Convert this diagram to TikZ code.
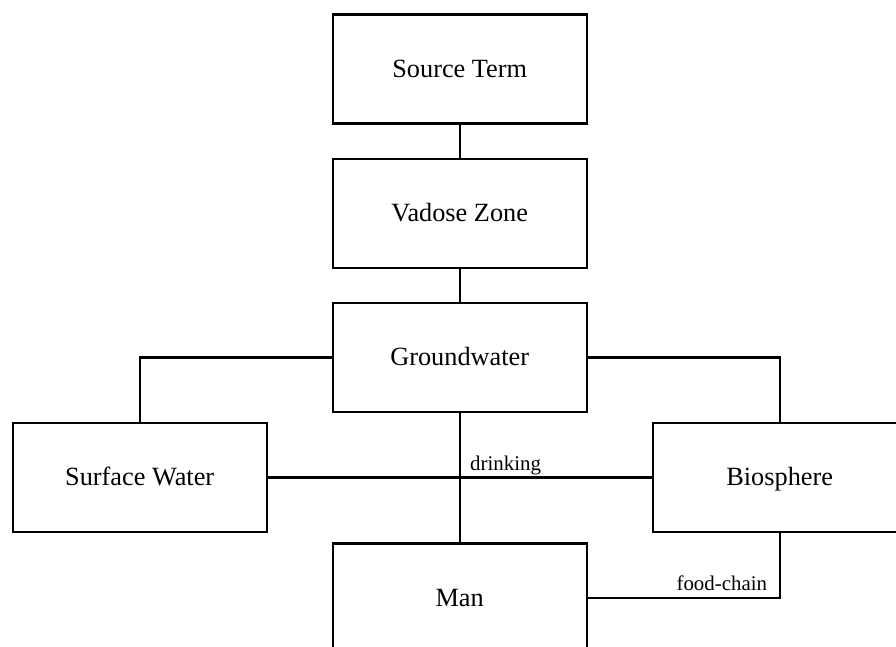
\documentclass[tikz,border=0pt]{standalone}
\usepackage{fontspec}
\setmainfont{Liberation Serif}
\begin{document}
\begin{tikzpicture}[x=1pt,y=-1pt,
  compartment/.style={draw, line width=2.2pt, rectangle, inner sep=0pt,
    minimum width=254pt, minimum height=109pt,
    text height=17.4pt, text depth=1.4pt,
    font=\fontsize{26.3}{30}\selectfont},
  link/.style={draw, line width=2.2pt},
  pathlabel/.style={inner sep=0pt, font=\fontsize{20.9}{24}\selectfont}]
\useasboundingbox (0,0) rectangle (896,646);
\begin{scope}
\clip (0,0) rectangle (896,646);
% compartments of the transport model
\node[compartment] (src) at (459.7,69)    {Source Term};
\node[compartment] (vad) at (459.7,213.5) {Vadose Zone};
\node[compartment] (gw)  at (459.7,357.5) {Groundwater};
\node[compartment] (sw)  at (139.7,477.5) {Surface Water};
\node[compartment] (bio) at (779.7,477.5) {Biosphere};
\node[compartment] (man) at (459.7,598)   {Man};
% pathways between compartments
\draw[link] (src.south) -- (vad.north);
\draw[link] (vad.south) -- (gw.north);
\draw[link] (gw.west) -| (sw.north);
\draw[link] (gw.east) -| (bio.north);
\draw[link] (sw.east) -- (bio.west);
\draw[link] (gw.south) -- (man.north);
\draw[link] (man.east) -| (bio.south);
\end{scope}
% pathway labels
\node[pathlabel, anchor=base west] (drink) at (470,470) {drinking};
\node[pathlabel, anchor=base east] (food) at (767.3,590) {food-chain};
\end{tikzpicture}
\end{document}
